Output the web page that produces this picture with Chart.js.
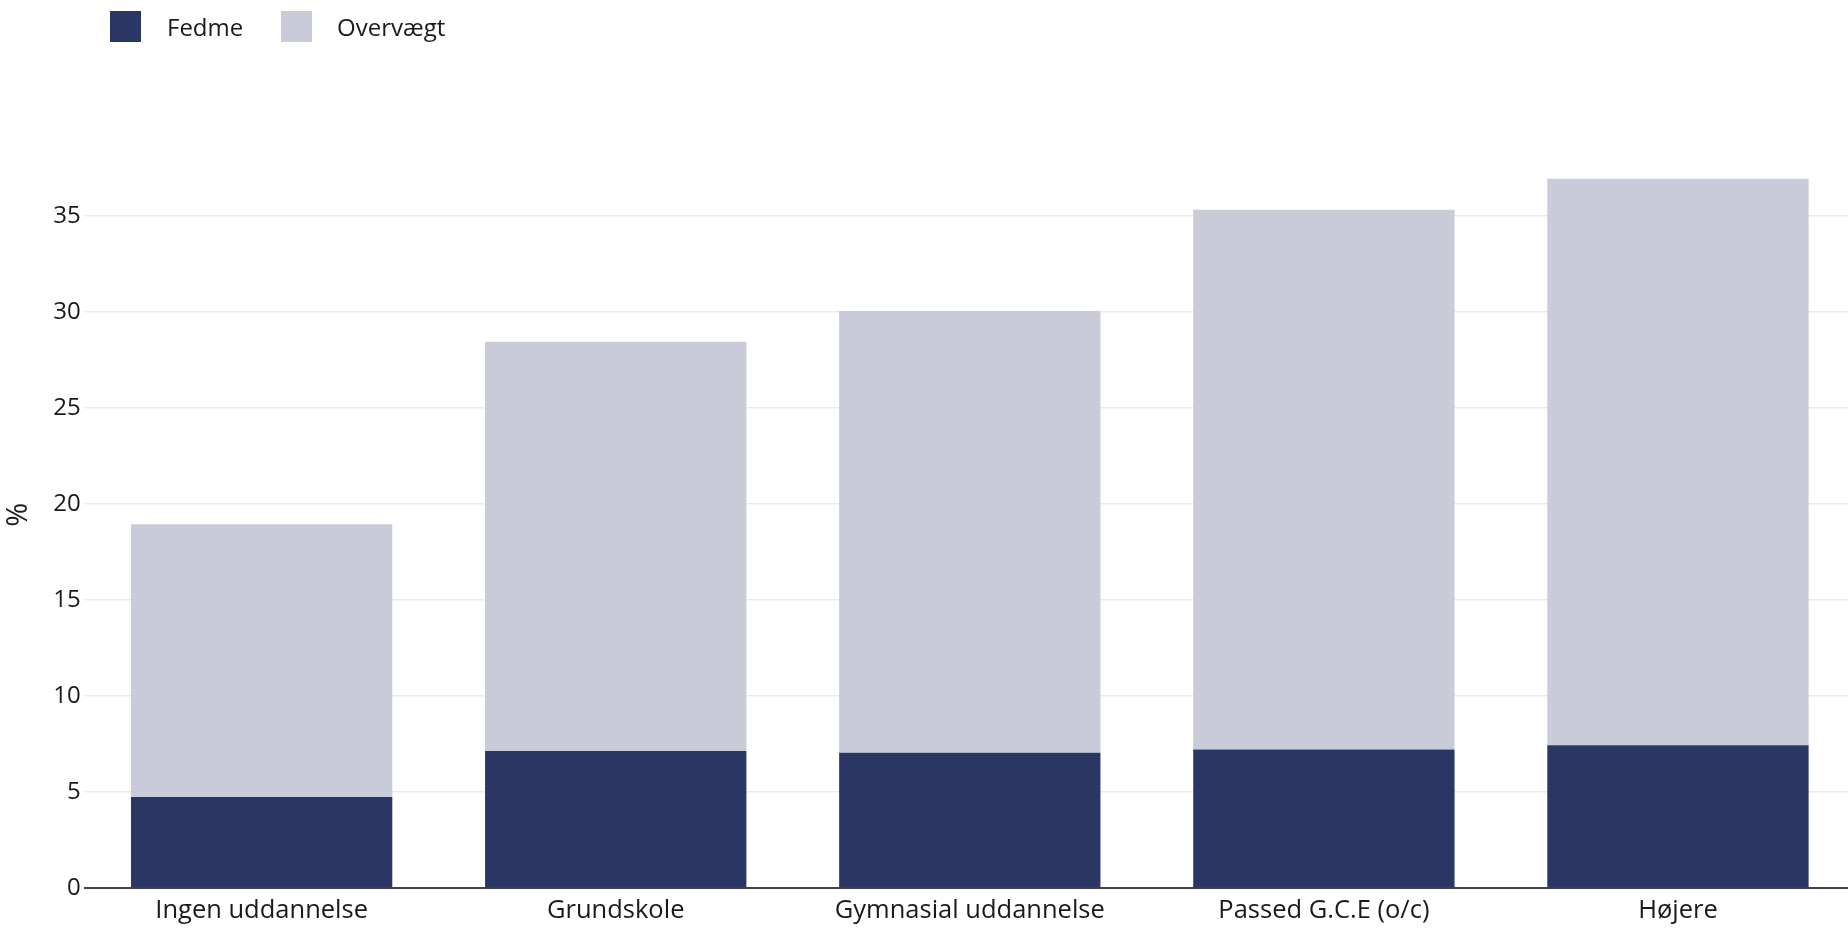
<!DOCTYPE html>
<html>
<head>
<meta charset="utf-8">
<script src="https://cdn.jsdelivr.net/npm/chart.js@4.4.1/dist/chart.umd.min.js"></script>
<style>
  html, body { margin: 0; padding: 0; background: #ffffff; overflow: hidden; }
  #wrap { position: relative; width: 1848px; height: 931px; overflow: hidden; }
  #c { position: absolute; left: 0; top: 0; }
  #legend { position: absolute; top: 11px; left: 0; height: 31px; width: 600px;
            font-family: "Open Sans", "Noto Sans", sans-serif; font-size: 24px; color: #1a1a1a; }
  .sw { position: absolute; top: 0; width: 31px; height: 31px; }
  .lt { position: absolute; top: 0; height: 31px; line-height: 31px; white-space: nowrap; }
</style>
</head>
<body>
<div id="wrap">
  <canvas id="c" width="1855" height="931"></canvas>
  <div id="legend"></div>
</div>
<script>
const categories = ["Ingen uddannelse", "Grundskole", "Gymnasial uddannelse", "Passed G.C.E (o/c)", "Højere"];
const seriesNames = ["Fedme", "Overvægt"];
const fedme = [4.75, 7.15, 7.05, 7.22, 7.44];
const overvaegt = [14.2, 21.3, 23.0, 28.1, 29.5];
const yTicks = [0, 5, 10, 15, 20, 25, 30, 35];
const colors = ["#2a3663", "#c9ccd8"];

// HTML legend
const legend = document.getElementById('legend');
const legendPos = [[110, 167], [281, 337]];
seriesNames.forEach((name, i) => {
  const sw = document.createElement('div');
  sw.className = 'sw';
  sw.style.left = legendPos[i][0] + 'px';
  sw.style.background = colors[i];
  legend.appendChild(sw);
  const t = document.createElement('div');
  t.className = 'lt';
  t.style.left = legendPos[i][1] + 'px';
  t.textContent = name;
  legend.appendChild(t);
});

const FONT = '"Open Sans", "Noto Sans", sans-serif';
const canvas = document.getElementById('c');
canvas.style.width = '1855px';
canvas.style.height = '931px';

new Chart(canvas, {
  type: 'bar',
  data: {
    labels: categories,
    datasets: [
      { label: seriesNames[0], data: fedme, backgroundColor: colors[0], borderWidth: 0 },
      { label: seriesNames[1], data: overvaegt, backgroundColor: colors[1], borderWidth: 0 }
    ]
  },
  options: {
    responsive: false,
    animation: false,
    devicePixelRatio: 1,
    layout: { padding: { top: 141, right: 0, bottom: 0, left: 0 } },
    datasets: { bar: { categoryPercentage: 1.0, barPercentage: 0.738 } },
    plugins: {
      legend: { display: false },
      tooltip: { enabled: false }
    },
    scales: {
      x: {
        stacked: true,
        grid: { display: false, drawTicks: false },
        border: { display: true, color: '#444444', width: 2 },
        ticks: { color: '#1a1a1a', font: { family: FONT, size: 25.5 }, padding: 7, maxRotation: 0, autoSkip: false },
        afterFit: (s) => { s.height = 42.7; }
      },
      y: {
        stacked: true,
        min: 0,
        max: 38.9,
        afterBuildTicks: (s) => { s.ticks = yTicks.map(v => ({ value: v })); },
        grid: { color: '#ebebeb', lineWidth: 1.5, drawTicks: false },
        border: { display: false },
        ticks: { color: '#1a1a1a', font: { family: FONT, size: 24 }, padding: 4 },
        title: { display: true, text: '%', color: '#1a1a1a', font: { family: FONT, size: 29 }, padding: { top: 1, bottom: 0 } },
        afterFit: (s) => { s.width = 84.6; }
      }
    }
  }
});
</script>
</body>
</html>
